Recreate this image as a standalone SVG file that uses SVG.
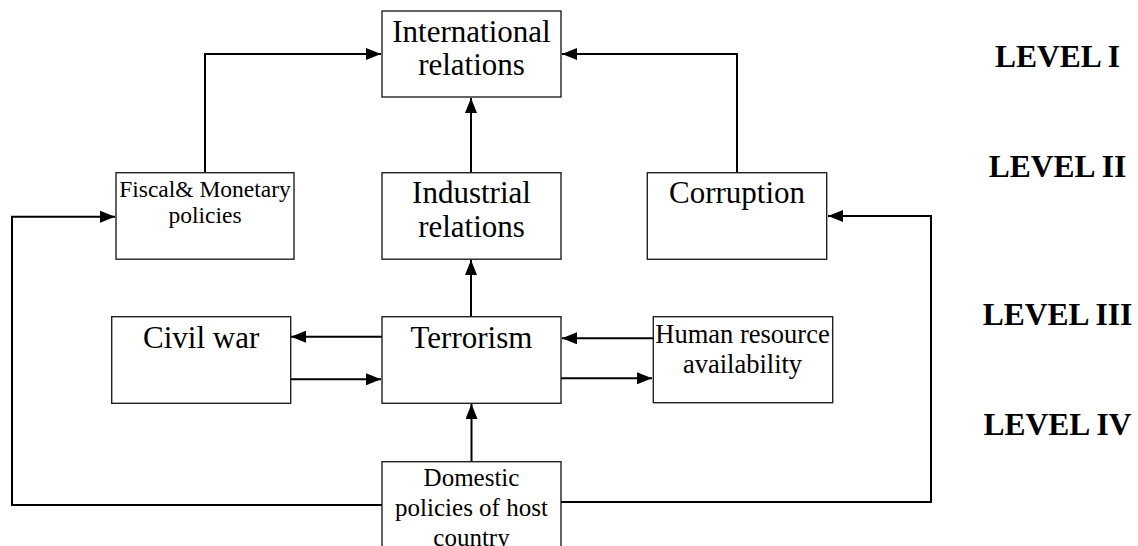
<svg xmlns="http://www.w3.org/2000/svg" width="1138" height="546" viewBox="0 0 1138 546">
<style>
.box{fill:#fff;stroke:#222;stroke-width:1.4}
.t{font-family:"Liberation Serif","Times New Roman",serif;fill:#000;text-anchor:middle}
.lv{font-family:"Liberation Serif","Times New Roman",serif;font-weight:bold;font-size:31.5px;fill:#000;text-anchor:middle}
.c{fill:none;stroke:#000;stroke-width:2}
</style>
<defs>
<marker id="ah" markerWidth="15" markerHeight="12" refX="15" refY="6" orient="auto" markerUnits="userSpaceOnUse"><path d="M0,0 L15,6 L0,12 z" fill="#000"/></marker>
</defs>
<rect width="1138" height="546" fill="#fff"/>
<g id="connectors">
<path class="c" d="M205,172.7 V54 H381" marker-end="url(#ah)"/>
<path class="c" d="M737,172.7 V54 H562" marker-end="url(#ah)"/>
<path class="c" d="M471,172.7 V98" marker-end="url(#ah)"/>
<path class="c" d="M471,316.7 V260" marker-end="url(#ah)"/>
<path class="c" d="M382,336.7 H291" marker-end="url(#ah)"/>
<path class="c" d="M291,379.3 H381" marker-end="url(#ah)"/>
<path class="c" d="M653,338.3 H562" marker-end="url(#ah)"/>
<path class="c" d="M561,378.3 H652" marker-end="url(#ah)"/>
<path class="c" d="M471.5,461.7 V404" marker-end="url(#ah)"/>
<path class="c" d="M382,505 H12 V216.7 H115" marker-end="url(#ah)"/>
<path class="c" d="M561,502 H931 V216 H828" marker-end="url(#ah)"/>
</g>
<g id="international">
<rect class="box" x="382" y="11" width="179" height="86"/>
<text class="t" x="471.5" y="41.7" font-size="31">International</text>
<text class="t" x="471.5" y="75" font-size="31">relations</text>
</g>
<g id="fiscal">
<rect class="box" x="116" y="172.7" width="178" height="86.5"/>
<text class="t" x="205" y="196.7" font-size="23.5">Fiscal&amp; Monetary</text>
<text class="t" x="205" y="223.3" font-size="23.5">policies</text>
</g>
<g id="industrial">
<rect class="box" x="382" y="172.7" width="179" height="86.5"/>
<text class="t" x="471.5" y="203.3" font-size="31">Industrial</text>
<text class="t" x="471.5" y="236.7" font-size="31">relations</text>
</g>
<g id="corruption">
<rect class="box" x="647.3" y="172.7" width="179.4" height="86.6"/>
<text class="t" x="737" y="203.3" font-size="31">Corruption</text>
</g>
<g id="civilwar">
<rect class="box" x="111.7" y="316.7" width="179" height="86.6"/>
<text class="t" x="201.2" y="348.3" font-size="31">Civil war</text>
</g>
<g id="terrorism">
<rect class="box" x="382" y="316.7" width="179" height="86.6"/>
<text class="t" x="471.5" y="348.3" font-size="31">Terrorism</text>
</g>
<g id="humanresource">
<rect class="box" x="653.3" y="316.7" width="179.4" height="86"/>
<text class="t" x="742.5" y="342.7" font-size="26.5">Human resource</text>
<text class="t" x="742.5" y="372.7" font-size="26.5">availability</text>
</g>
<g id="domestic">
<rect class="box" x="382" y="461.7" width="179" height="100"/>
<text class="t" x="471.5" y="486" font-size="25">Domestic</text>
<text class="t" x="471.5" y="516" font-size="25">policies of host</text>
<text class="t" x="471.5" y="546" font-size="25">country</text>
</g>
<g id="levels">
<text class="lv" x="1057.5" y="66.7">LEVEL I</text>
<text class="lv" x="1057.5" y="176.7">LEVEL II</text>
<text class="lv" x="1057.5" y="325">LEVEL III</text>
<text class="lv" x="1057.5" y="435">LEVEL IV</text>
</g>
</svg>
